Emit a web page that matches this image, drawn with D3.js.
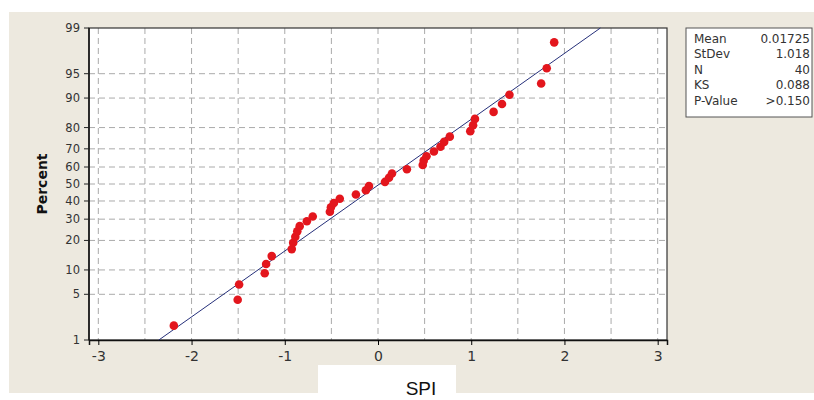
<!DOCTYPE html>
<html>
<head>
<meta charset="utf-8">
<script src="https://cdn.jsdelivr.net/npm/d3@7"></script>
<style>
  body { margin: 0; background: #fff; }
  svg { display: block; }
</style>
</head>
<body>
<div class="chart"></div>
<script>
// SPI values, sorted
const spi = [-2.19, -1.505, -1.49, -1.215, -1.20, -1.14, -0.925, -0.91, -0.887, -0.866,
             -0.84, -0.763, -0.70, -0.516, -0.505, -0.473, -0.41, -0.237, -0.13, -0.097,
             0.075, 0.118, 0.15, 0.31, 0.48, 0.49, 0.52, 0.60, 0.67, 0.71,
             0.77, 0.99, 1.02, 1.04, 1.24, 1.33, 1.41, 1.75, 1.81, 1.89];
const xTicks = [-3, -2, -1, 0, 1, 2, 3];
const xGrid = [-3, -2.5, -2, -1.5, -1, -0.5, 0, 0.5, 1, 1.5, 2, 2.5, 3];
const yTicks = [1, 5, 10, 20, 30, 40, 50, 60, 70, 80, 90, 95, 99];
const yGrid = [5, 10, 20, 30, 40, 50, 60, 70, 80, 90, 95];
const statLabels = ["Mean", "StDev", "N", "KS", "P-Value"];
const statValues = ["0.01725", "1.018", "40", "0.088", ">0.150"];

// inverse normal cdf (Acklam)
function probit(p) {
  const a = [-39.69683028665376, 220.9460984245205, -275.9285104469687, 138.3577518672690, -30.66479806614716, 2.506628277459239];
  const b = [-54.47609879822406, 161.5858368580409, -155.6989798598866, 66.80131188771972, -13.28068155288572];
  const c = [-0.007784894002430293, -0.3223964580411365, -2.400758277161838, -2.549732539343734, 4.374664141464968, 2.938163982698783];
  const d = [0.007784695709041462, 0.3224671290700398, 2.445134137142996, 3.754408661907416];
  const pl = 0.02425;
  let q, r;
  if (p < pl) {
    q = Math.sqrt(-2 * Math.log(p));
    return (((((c[0]*q+c[1])*q+c[2])*q+c[3])*q+c[4])*q+c[5]) / ((((d[0]*q+d[1])*q+d[2])*q+d[3])*q+1);
  } else if (p <= 1 - pl) {
    q = p - 0.5; r = q * q;
    return (((((a[0]*r+a[1])*r+a[2])*r+a[3])*r+a[4])*r+a[5])*q / (((((b[0]*r+b[1])*r+b[2])*r+b[3])*r+b[4])*r+1);
  } else {
    q = Math.sqrt(-2 * Math.log(1 - p));
    return -(((((c[0]*q+c[1])*q+c[2])*q+c[3])*q+c[4])*q+c[5]) / ((((d[0]*q+d[1])*q+d[2])*q+d[3])*q+1);
  }
}

const W = 814, H = 400;
const plot = {left: 89, top: 28, right: 667, bottom: 340};

const svg = d3.select('.chart').append('svg')
  .attr('width', W)
  .attr('height', H);

// beige panel + white strip under the axis title
svg.append('rect').attr('x', 9).attr('y', 12).attr('width', W - 9).attr('height', 381).attr('fill', '#ede9df');
svg.append('rect').attr('x', 318).attr('y', 365).attr('width', 138).attr('height', 35).attr('fill', '#fff');

const xScale = d3.scaleLinear()
  .domain([-3.1, 3.1])
  .range([plot.left, plot.right]);

const zScale = d3.scaleLinear()
  .domain([probit(0.01), probit(0.99)])
  .range([plot.bottom, plot.top]);
const yScale = pct => zScale(probit(pct / 100));

svg.append('rect')
  .attr('x', plot.left).attr('y', plot.top)
  .attr('width', plot.right - plot.left).attr('height', plot.bottom - plot.top)
  .attr('fill', '#fff');

// grid
svg.append('g').selectAll('line')
  .data(xGrid).enter().append('line')
  .attr('x1', d => xScale(d)).attr('x2', d => xScale(d))
  .attr('y1', plot.top).attr('y2', plot.bottom)
  .attr('stroke', '#aaa').attr('stroke-dasharray', '6,4');

svg.append('g').selectAll('line')
  .data(yGrid).enter().append('line')
  .attr('x1', plot.left).attr('x2', plot.right)
  .attr('y1', d => yScale(d)).attr('y2', d => yScale(d))
  .attr('stroke', '#aaa').attr('stroke-dasharray', '6,4');

// frame
svg.append('rect')
  .attr('x', plot.left).attr('y', plot.top)
  .attr('width', plot.right - plot.left).attr('height', plot.bottom - plot.top)
  .attr('fill', 'none').attr('stroke', '#333').attr('stroke-width', 1.2);

// axes
const xAxis = d3.axisBottom(xScale).tickValues(xTicks).tickSize(5).tickFormat(d => String(d));
const gx = svg.append('g')
  .attr('class', 'x-axis')
  .attr('transform', `translate(0, ${plot.bottom})`)
  .call(xAxis);
gx.select('.domain').attr('stroke', '#111').attr('stroke-width', 1.5);
gx.selectAll('text').attr('font-family', 'DejaVu Sans').attr('font-size', '14px').attr('fill', '#333').attr('dy', '0.9em');

const gy = svg.append('g').attr('class', 'y-axis');
gy.append('line')
  .attr('x1', plot.left).attr('x2', plot.left)
  .attr('y1', plot.top).attr('y2', plot.bottom)
  .attr('stroke', '#111').attr('stroke-width', 1.5);
const yt = gy.selectAll('.tick').data(yTicks).enter().append('g')
  .attr('class', 'tick')
  .attr('transform', d => `translate(${plot.left}, ${yScale(d)})`);
yt.append('line').attr('x1', -5).attr('x2', 0).attr('stroke', '#222');
yt.append('text')
  .attr('x', -9).attr('dy', '0.35em')
  .attr('text-anchor', 'end')
  .attr('font-family', 'DejaVu Sans').attr('font-size', '11.5px').attr('fill', '#333')
  .text(d => d);

svg.append('text')
  .attr('transform', `translate(47, ${yScale(50)}) rotate(-90)`)
  .attr('text-anchor', 'middle')
  .attr('font-family', 'DejaVu Sans').attr('font-weight', 'bold').attr('font-size', '14px')
  .attr('fill', '#111')
  .text('Percent');

svg.append('text')
  .attr('x', 421).attr('y', 395)
  .attr('text-anchor', 'middle')
  .attr('font-family', 'Liberation Sans').attr('font-size', '19px')
  .attr('fill', '#111')
  .text('SPI');

// fitted normal line
const mean = +statValues[0], sd = +statValues[1];
const zEnds = zScale.domain();
svg.append('line')
  .attr('x1', xScale(mean + sd * zEnds[0])).attr('y1', zScale(zEnds[0]))
  .attr('x2', xScale(mean + sd * zEnds[1])).attr('y2', zScale(zEnds[1]))
  .attr('stroke', '#26307a').attr('stroke-width', 1);

// points at median-rank plotting positions
const n = spi.length;
svg.append('g').selectAll('circle')
  .data(spi).enter().append('circle')
  .attr('cx', d => xScale(d))
  .attr('cy', (d, i) => yScale(100 * (i + 1 - 0.3) / (n + 0.4)))
  .attr('r', 4.3)
  .attr('fill', '#e3161d');

// stats box
const box = svg.append('g').attr('transform', 'translate(686, 28)');
box.append('rect').attr('width', 126).attr('height', 89)
  .attr('fill', '#fff').attr('stroke', '#555');
box.selectAll('.lab').data(statLabels).enter().append('text')
  .attr('class', 'lab')
  .attr('x', 8).attr('y', (d, i) => 14.5 + i * 15.5)
  .attr('font-family', 'DejaVu Sans').attr('font-size', '12px').attr('fill', '#333')
  .text(d => d);
box.selectAll('.val').data(statValues).enter().append('text')
  .attr('class', 'val')
  .attr('x', 124).attr('y', (d, i) => 14.5 + i * 15.5)
  .attr('text-anchor', 'end')
  .attr('font-family', 'DejaVu Sans').attr('font-size', '12px').attr('fill', '#333')
  .text(d => d);
</script>
</body>
</html>
